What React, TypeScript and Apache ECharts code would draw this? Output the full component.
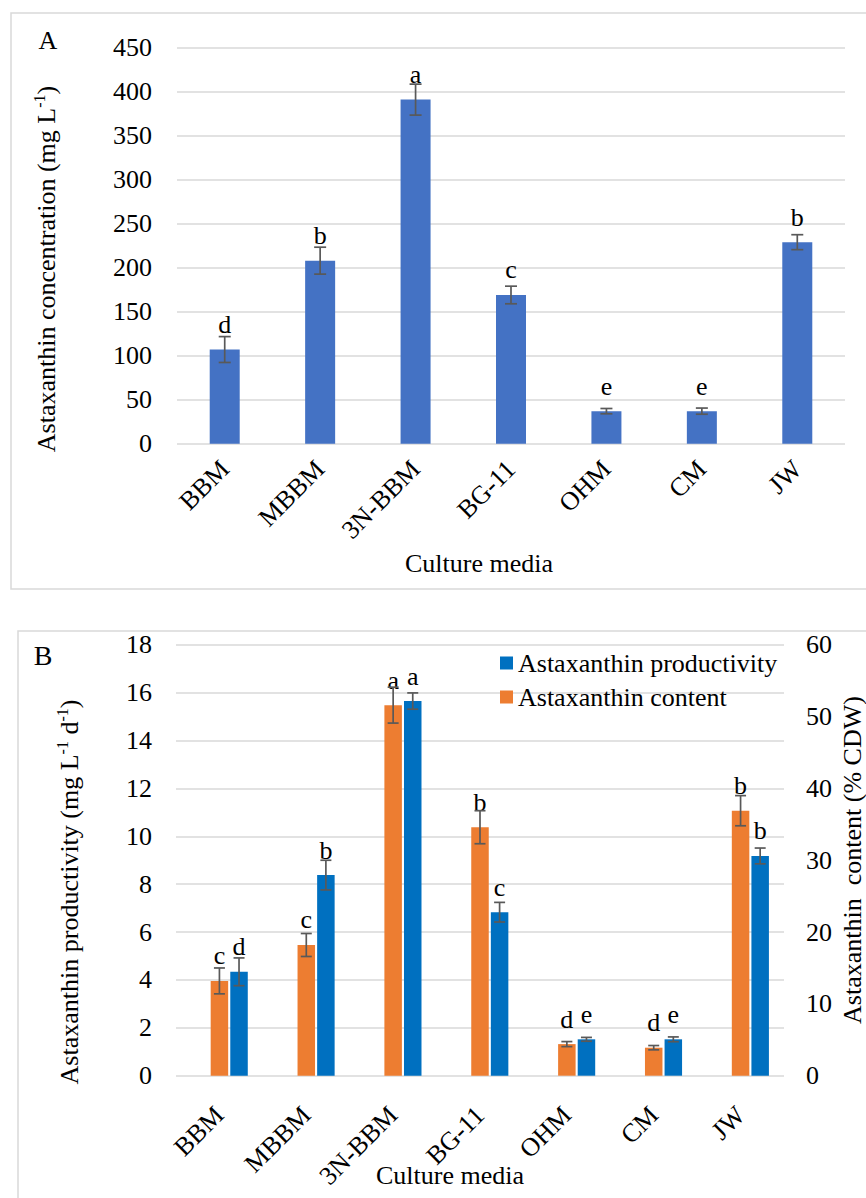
import React, { useEffect, useRef } from "react";
import * as echarts from "echarts";

const FONT = "Liberation Serif, Times New Roman, serif";

const categories = ["BBM", "MBBM", "3N-BBM", "BG-11", "OHM", "CM", "JW"];

// Panel A
const concentration = [107, 208, 391, 169, 37, 37, 229];
const concentrationErr = [14.7, 15.3, 17.6, 10, 3, 3.5, 8.5];
const concentrationLetters = ["d", "b", "a", "c", "e", "e", "b"];

// Panel B
const productivity = [4.34, 8.38, 15.65, 6.83, 1.52, 1.52, 9.18];
const productivityErr = [0.58, 0.62, 0.34, 0.41, 0.08, 0.1, 0.33];
const productivityLetters = ["d", "b", "a", "c", "e", "e", "b"];
const content = [13.2, 18.2, 51.6, 34.6, 4.4, 3.9, 36.9];
const contentErr = [1.8, 1.6, 2.5, 2.3, 0.35, 0.3, 2.1];
const contentLetters = ["c", "c", "a", "b", "d", "d", "b"];

const BLUE_A = "#4472C4";
const BLUE_B = "#0070C0";
const ORANGE_B = "#ED7D31";
const ERR = "#595959";
const GRIDC = "#D9D9D9";
const FS = 26;

const BAR_B = 17.5;
const GAP_B = 12; // percent

function errSeries(xi: number, yi: number, vals: number[], errs: number[], offset: number, cap: number) {
  return {
    type: "custom",
    xAxisIndex: xi,
    yAxisIndex: yi,
    z: 10,
    silent: true,
    data: vals.map((v, i) => [i, v - errs[i], v + errs[i]]),
    renderItem: (params: any, api: any) => {
      const lo = api.coord([api.value(0), api.value(1)]);
      const hi = api.coord([api.value(0), api.value(2)]);
      const x = lo[0] + offset;
      const style = { stroke: ERR, lineWidth: 1.7 };
      return {
        type: "group",
        children: [
          { type: "line", shape: { x1: x, y1: lo[1], x2: x, y2: hi[1] }, style },
          { type: "line", shape: { x1: x - cap / 2, y1: lo[1], x2: x + cap / 2, y2: lo[1] }, style },
          { type: "line", shape: { x1: x - cap / 2, y1: hi[1], x2: x + cap / 2, y2: hi[1] }, style },
        ],
      };
    },
  };
}

function letterLabel(letters: string[], distance: number) {
  return {
    show: true,
    position: "top",
    distance,
    formatter: (p: any) => letters[p.dataIndex],
    fontSize: FS,
    fontFamily: FONT,
    color: "#000",
  };
}

const axisLabelStyle = { fontSize: FS, fontFamily: FONT, color: "#000" };

const richStyles = {
  m: { fontSize: FS, fontFamily: FONT, lineHeight: 30, color: "#000" },
  b: { fontSize: FS + 2, fontFamily: FONT, lineHeight: 30, color: "#000" },
  s: { fontSize: 16, fontFamily: FONT, lineHeight: 30, verticalAlign: "top", color: "#000" },
};

function richText(text: string, x: number, y: number, rotation = 0) {
  return {
    type: "text",
    x,
    y,
    rotation,
    style: {
      text,
      align: "center",
      verticalAlign: "middle",
      fill: "#000",
      rich: richStyles,
    },
  };
}

export default function App() {
  const ref = useRef<HTMLDivElement>(null);
  useEffect(() => {
    if (!ref.current) return;
    const chart = echarts.init(ref.current, null, { renderer: "svg" });
    const option: any = {
      animation: false,
      textStyle: { fontFamily: FONT },
      grid: [
        { left: 177, top: 47.7, width: 668, height: 396, containLabel: false },
        { left: 176, top: 644.8, width: 608, height: 430.9, containLabel: false },
      ],
      legend: {
        orient: "vertical",
        left: 500,
        top: 650,
        itemWidth: 13,
        itemHeight: 13,
        itemGap: 8,
        padding: 0,
        icon: "rect",
        data: [{ name: "Astaxanthin productivity" }, { name: "Astaxanthin content" }],
        textStyle: { fontSize: FS, fontFamily: FONT, color: "#000", lineHeight: 26 },
      },
      xAxis: [
        {
          type: "category",
          gridIndex: 0,
          data: categories,
          axisLine: { show: false },
          axisTick: { show: false },
          axisLabel: { ...axisLabelStyle, rotate: 45, interval: 0, margin: 21 },
        },
        {
          type: "category",
          gridIndex: 1,
          data: categories,
          axisLine: { show: false },
          axisTick: { show: false },
          axisLabel: { ...axisLabelStyle, rotate: 45, interval: 0, margin: 35 },
        },
      ],
      yAxis: [
        {
          type: "value",
          gridIndex: 0,
          min: 0,
          max: 450,
          interval: 50,
          axisLine: { show: false },
          axisTick: { show: false },
          axisLabel: { ...axisLabelStyle, margin: 25 },
          splitLine: { lineStyle: { color: GRIDC, width: 1.5 } },
        },
        {
          type: "value",
          gridIndex: 1,
          min: 0,
          max: 18,
          interval: 2,
          axisLine: { show: false },
          axisTick: { show: false },
          axisLabel: { ...axisLabelStyle, margin: 24 },
          splitLine: { lineStyle: { color: GRIDC, width: 1.5 } },
        },
        {
          type: "value",
          gridIndex: 1,
          position: "right",
          min: 0,
          max: 60,
          interval: 10,
          axisLine: { show: false },
          axisTick: { show: false },
          axisLabel: { ...axisLabelStyle, margin: 22 },
          splitLine: { show: false },
        },
      ],
      series: [
        {
          type: "bar",
          name: "Astaxanthin concentration",
          xAxisIndex: 0,
          yAxisIndex: 0,
          data: concentration,
          barWidth: 30,
          itemStyle: { color: BLUE_A },
          label: letterLabel(concentrationLetters, 12),
        },
        errSeries(0, 0, concentration, concentrationErr, 0, 12),
        {
          type: "bar",
          name: "spacer",
          xAxisIndex: 1,
          yAxisIndex: 1,
          data: categories.map(() => null),
          barWidth: BAR_B,
          barGap: GAP_B + "%",
          silent: true,
        },
        {
          type: "bar",
          name: "Astaxanthin content",
          xAxisIndex: 1,
          yAxisIndex: 2,
          data: content,
          barWidth: BAR_B,
          barGap: GAP_B + "%",
          itemStyle: { color: ORANGE_B },
          label: letterLabel(contentLetters, 12),
        },
        {
          type: "bar",
          name: "Astaxanthin productivity",
          xAxisIndex: 1,
          yAxisIndex: 1,
          data: productivity,
          barWidth: BAR_B,
          barGap: GAP_B + "%",
          itemStyle: { color: BLUE_B },
          label: letterLabel(productivityLetters, 12),
        },
        errSeries(1, 2, content, contentErr, 0, 11),
        errSeries(1, 1, productivity, productivityErr, BAR_B * (1 + GAP_B / 100), 11),
      ],
      graphic: [
        {
          type: "rect",
          shape: { x: 11, y: 13, width: 880, height: 576 },
          style: { fill: "none", stroke: GRIDC, lineWidth: 1.5 },
          silent: true,
        },
        {
          type: "rect",
          shape: { x: 18, y: 631, width: 880, height: 600 },
          style: { fill: "none", stroke: GRIDC, lineWidth: 1.5 },
          silent: true,
        },
        richText("{m|A}", 48, 40),
        richText("{b|B}", 43, 655),
        richText("{m|Astaxanthin concentration (mg L}{s|-1}{m|)}", 46, 269, Math.PI / 2),
        richText("{m|Astaxanthin productivity (mg L}{s|-1}{m| d}{s|-1}{m|)}", 69, 892, Math.PI / 2),
        richText("{m|Astaxanthin  content (% CDW)}", 852, 860, Math.PI / 2),
        richText("{m|Culture media}", 479, 563),
        richText("{m|Culture media}", 450, 1175),
      ],
    };
    chart.setOption(option);
    return () => chart.dispose();
  }, []);
  return (
    <div
      ref={ref}
      style={{ position: "fixed", left: 0, top: 0, width: 866, height: 1198, background: "#fff" }}
    />
  );
}
